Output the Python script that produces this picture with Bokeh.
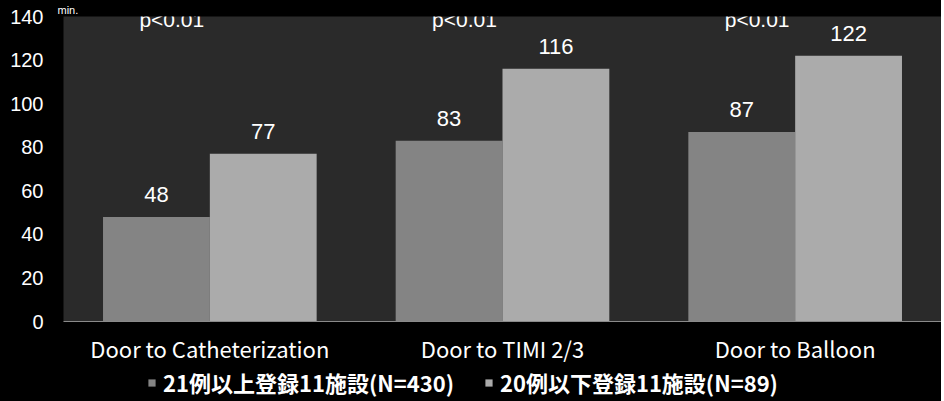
from bokeh.plotting import figure
from bokeh.layouts import column
from bokeh.models import ColumnDataSource, FactorRange, Legend, LegendItem, LabelSet, FixedTicker
from bokeh.transform import dodge
from bokeh.core.properties import value
from bokeh.embed import file_html
from bokeh.resources import INLINE

categories = ["Door to Catheterization", "Door to TIMI 2/3", "Door to Balloon"]
series_a = [48, 83, 87]
series_b = [77, 116, 122]
p_values = ["p<0.01", "p<0.01", "p<0.01"]
series_names = ["21例以上登録11施設(N=430)", "20例以下登録11施設(N=89)"]
y_ticks = [0, 20, 40, 60, 80, 100, 120, 140]

color_a = "#848484"
color_b = "#ababab"

src = ColumnDataSource(dict(cat=categories, a=series_a, b=series_b,
                            la=[str(v) for v in series_a], lb=[str(v) for v in series_b],
                            pv=p_values, py=[138.6] * 3))

p = figure(frame_width=878, frame_height=305, output_backend="svg", toolbar_location=None,
           x_range=FactorRange(*categories, range_padding=0, factor_padding=0),
           y_range=(0, 140), min_border_left=63, min_border_right=0,
           min_border_top=16, min_border_bottom=42, title="min.")

p.title.text_color = "white"
p.title.text_font = "Liberation Sans"
p.title.text_font_size = "11px"
p.title.text_font_style = "normal"
p.title.align = "left"
p.title.offset = -6
p.title.standoff = 1

p.background_fill_color = "#2a2a2a"
p.border_fill_color = "#000000"
p.outline_line_color = None
p.xgrid.visible = False
p.ygrid.visible = False

bw = 0.365
p.vbar(x=dodge("cat", -bw / 2, range=p.x_range), top="a", width=bw, bottom=0,
       source=src, fill_color=color_a, line_color=None)
p.vbar(x=dodge("cat", bw / 2, range=p.x_range), top="b", width=bw, bottom=0,
       source=src, fill_color=color_b, line_color=None)

num_font = value("Liberation Sans")
la = LabelSet(x=dodge("cat", -bw / 2, range=p.x_range), y="a", text="la", source=src,
              text_align="center", text_baseline="bottom", y_offset=15,
              text_color="white", text_font_size="22px", text_font=num_font)
lb = LabelSet(x=dodge("cat", bw / 2, range=p.x_range), y="b", text="lb", source=src,
              text_align="center", text_baseline="bottom", y_offset=15,
              text_color="white", text_font_size="22px", text_font=num_font)
lp = LabelSet(x=dodge("cat", -0.13, range=p.x_range), y="py", text="pv", source=src,
              text_align="center", text_baseline="middle",
              text_color="white", text_font_size="21px", text_font=num_font)
p.add_layout(la)
p.add_layout(lb)
p.add_layout(lp)

p.yaxis.ticker = FixedTicker(ticks=y_ticks)
p.yaxis.major_label_text_color = "white"
p.yaxis.major_label_text_font = "Liberation Sans"
p.yaxis.major_label_text_font_size = "20px"
p.yaxis.major_tick_line_color = None
p.yaxis.minor_tick_line_color = None
p.yaxis.axis_line_color = None
p.yaxis.major_label_standoff = 14

p.xaxis.major_label_text_color = "white"
p.xaxis.major_label_text_font = "Noto Sans CJK JP"
p.xaxis.major_label_text_font_size = "22px"
p.xaxis.major_tick_line_color = None
p.xaxis.minor_tick_line_color = None
p.xaxis.axis_line_color = "#8a8a8a"
p.xaxis.major_label_standoff = 4

# legend strip (bars here fall outside the visible range; only their legend swatches show)
lg = figure(width=941, height=38, output_backend="svg", toolbar_location=None,
            x_range=FactorRange(*categories, range_padding=0, factor_padding=0),
            y_range=(1000, 1001), min_border=0,
            x_axis_location=None, y_axis_location=None)
lg.background_fill_color = "#000000"
lg.border_fill_color = "#000000"
lg.outline_line_color = None
lg.xgrid.visible = False
lg.ygrid.visible = False
ga = lg.vbar(x="cat", top="a", width=bw, source=src, fill_color=color_a, line_color=None)
gb = lg.vbar(x="cat", top="b", width=bw, source=src, fill_color=color_b, line_color=None)

legend = Legend(items=[LegendItem(label=series_names[0], renderers=[ga]),
                       LegendItem(label=series_names[1], renderers=[gb])],
                orientation="horizontal", location=(84, 6),
                background_fill_alpha=0, border_line_color=None,
                label_text_color="white", label_text_font="Noto Sans CJK JP",
                label_text_font_style="bold", label_text_font_size="22px",
                glyph_width=9, glyph_height=9, label_standoff=7, spacing=30,
                padding=0, margin=0, label_height=24)
lg.add_layout(legend)

layout = column(p, lg, spacing=0, styles={"background-color": "#000000"})
open("out.html", "w").write(file_html(layout, INLINE))
